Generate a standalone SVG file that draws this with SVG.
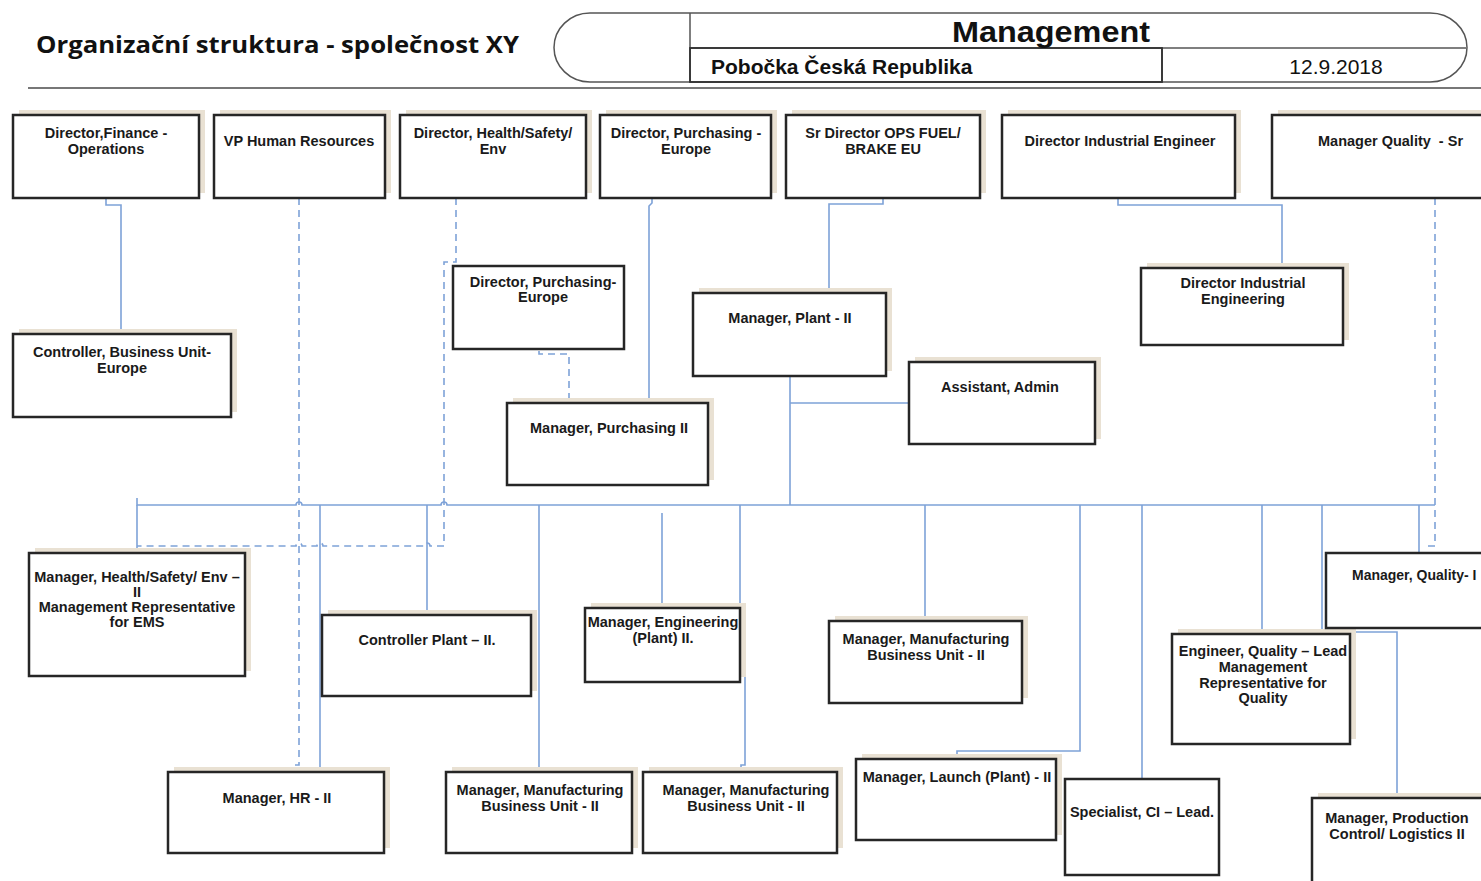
<svg xmlns="http://www.w3.org/2000/svg" width="1481" height="881" viewBox="0 0 1481 881">
<defs>
<style>
.bx{fill:#fff;stroke:#262626;stroke-width:2.5}
.sh{fill:#e9e1d3}
.t{font-family:"Liberation Sans",Arial,sans-serif;font-weight:bold;font-size:14.5px;fill:#1a1a1a;text-anchor:middle}
.c{fill:none;stroke:#7ea2d8;stroke-width:1.6}
.d{fill:none;stroke:#7ea2d8;stroke-width:1.6;stroke-dasharray:7 5}
.hd{fill:none;stroke:#555;stroke-width:1.5}
</style>
</defs>
<rect width="1481" height="881" fill="#fff"/>
<g id="header">
<text x="36" y="53" font-family="'Open Sans','Liberation Sans',sans-serif" font-weight="700" font-size="23" fill="#111" textLength="483" lengthAdjust="spacingAndGlyphs">Organizační struktura - společnost XY</text>
<path class="hd" d="M590,13 H1430 A37,34.5 0 0 1 1430,82 H590 A36,34.5 0 0 1 590,13 Z"/>
<path class="hd" d="M690,13 V82 M690,48 H1466 M1162,48 V82"/>
<rect x="690" y="48" width="472" height="34" fill="none" stroke="#333" stroke-width="1.8"/>
<text x="1051" y="42" font-family="'Liberation Sans',Arial,sans-serif" font-weight="bold" font-size="29" fill="#111" text-anchor="middle" textLength="198" lengthAdjust="spacingAndGlyphs">Management</text>
<text x="711" y="74" font-family="'Liberation Sans',Arial,sans-serif" font-weight="bold" font-size="21" fill="#111">Pobočka Česká Republika</text>
<text x="1336" y="74" font-family="'Liberation Sans',Arial,sans-serif" font-size="21" fill="#111" text-anchor="middle">12.9.2018</text>
<line x1="28" y1="88" x2="1481" y2="88" stroke="#777" stroke-width="2"/>
</g>
<g id="connectors">
<path class="c" d="M106,198 V205 H121 V334"/>
<path class="c" d="M652,198 V203 L649,206 V403"/>
<path class="c" d="M883,198 V204 H829 V293"/>
<path class="c" d="M1118,198 V205 H1282 V268"/>
<path class="c" d="M790,376 V505 M790,403 H909"/>
<path class="c" d="M137,498 V505 H296 A3,3 0 0 1 302,505 H441 A3,3 0 0 1 447,505 H1435"/>
<path class="c" d="M137,505 V553"/>
<path class="c" d="M320,505 V772"/>
<path class="c" d="M427,505 V615"/>
<path class="c" d="M539,505 V772"/>
<path class="c" d="M662,513 V608"/>
<path class="c" d="M740,505 V604 H745 V765 H741 V772"/>
<path class="c" d="M925,505 V621"/>
<path class="c" d="M1080,505 V751 H957 V759"/>
<path class="c" d="M1142,505 V779"/>
<path class="c" d="M1262,505 V634"/>
<path class="c" d="M1322,505 V632 H1397 V798"/>
<path class="c" d="M1419,505 V553"/>
<path class="d" d="M299,198 V765 H293 V772"/>
<path class="d" d="M456,198 V262 H444 V546 H430 A3,3 0 0 0 424,546 H323 A3,3 0 0 0 317,546 H302 A3,3 0 0 0 296,546 H137"/>
<path class="d" d="M539,351 V354 H569 V403"/>
<path class="d" d="M1435,198 V546 H1427"/>
</g>
<g id="n1"><rect class="sh" x="19" y="110" width="186" height="83"/><rect class="bx" x="13" y="115" width="186" height="83"/><text class="t" x="106" y="138">Director,Finance -</text><text class="t" x="106" y="154">Operations</text></g>
<g id="n2"><rect class="sh" x="220" y="110" width="171" height="83"/><rect class="bx" x="214" y="115" width="171" height="83"/><text class="t" x="299" y="146">VP Human Resources</text></g>
<g id="n3"><rect class="sh" x="406" y="110" width="186" height="83"/><rect class="bx" x="400" y="115" width="186" height="83"/><text class="t" x="493" y="138">Director, Health/Safety/</text><text class="t" x="493" y="154">Env</text></g>
<g id="n4"><rect class="sh" x="606" y="110" width="171" height="83"/><rect class="bx" x="600" y="115" width="171" height="83"/><text class="t" x="686" y="138">Director, Purchasing -</text><text class="t" x="686" y="154">Europe</text></g>
<g id="n5"><rect class="sh" x="792" y="110" width="194" height="83"/><rect class="bx" x="786" y="115" width="194" height="83"/><text class="t" x="883" y="138">Sr Director OPS FUEL/</text><text class="t" x="883" y="154">BRAKE EU</text></g>
<g id="n6"><rect class="sh" x="1008" y="110" width="233" height="83"/><rect class="bx" x="1002" y="115" width="233" height="83"/><text class="t" x="1120" y="146">Director Industrial Engineer</text></g>
<g id="n7"><rect class="sh" x="1278" y="110" width="220" height="83"/><rect class="bx" x="1272" y="115" width="220" height="83"/><text class="t" x="1318" y="146" style="text-anchor:start;white-space:pre">Manager Quality  - Sr</text></g>
<g id="n8"><rect class="sh" x="19" y="329" width="218" height="83"/><rect class="bx" x="13" y="334" width="218" height="83"/><text class="t" x="122" y="357">Controller, Business Unit-</text><text class="t" x="122" y="373">Europe</text></g>
<g id="n9"><rect class="bx" x="453" y="266" width="171" height="83"/><text class="t" x="543" y="287">Director, Purchasing-</text><text class="t" x="543" y="302">Europe</text></g>
<g id="n10"><rect class="sh" x="699" y="288" width="193" height="83"/><rect class="bx" x="693" y="293" width="193" height="83"/><text class="t" x="790" y="323">Manager, Plant - II</text></g>
<g id="n11"><rect class="sh" x="1147" y="263" width="202" height="77"/><rect class="bx" x="1141" y="268" width="202" height="77"/><text class="t" x="1243" y="288">Director Industrial</text><text class="t" x="1243" y="304">Engineering</text></g>
<g id="n12"><rect class="sh" x="915" y="357" width="186" height="82"/><rect class="bx" x="909" y="362" width="186" height="82"/><text class="t" x="1000" y="392">Assistant, Admin</text></g>
<g id="n13"><rect class="sh" x="513" y="398" width="201" height="82"/><rect class="bx" x="507" y="403" width="201" height="82"/><text class="t" x="609" y="433">Manager, Purchasing II</text></g>
<g id="n14"><rect class="sh" x="35" y="548" width="216" height="123"/><rect class="bx" x="29" y="553" width="216" height="123"/><text class="t" x="137" y="582">Manager, Health/Safety/ Env –</text><text class="t" x="137" y="597">II</text><text class="t" x="137" y="612">Management Representative</text><text class="t" x="137" y="627">for EMS</text></g>
<g id="n15"><rect class="sh" x="328" y="610" width="209" height="81"/><rect class="bx" x="322" y="615" width="209" height="81"/><text class="t" x="427" y="645">Controller Plant – II.</text></g>
<g id="n16"><rect class="sh" x="591" y="603" width="155" height="74"/><rect class="bx" x="585" y="608" width="155" height="74"/><text class="t" x="663" y="627">Manager, Engineering</text><text class="t" x="663" y="643">(Plant) II.</text></g>
<g id="n17"><rect class="sh" x="835" y="616" width="193" height="82"/><rect class="bx" x="829" y="621" width="193" height="82"/><text class="t" x="926" y="644">Manager, Manufacturing</text><text class="t" x="926" y="660">Business Unit - II</text></g>
<g id="n18"><rect class="sh" x="1178" y="629" width="178" height="110"/><rect class="bx" x="1172" y="634" width="178" height="110"/><text class="t" x="1263" y="656">Engineer, Quality – Lead</text><text class="t" x="1263" y="672">Management</text><text class="t" x="1263" y="688">Representative for</text><text class="t" x="1263" y="703">Quality</text></g>
<g id="n19"><rect class="bx" x="1326" y="553" width="170" height="75"/><text class="t" x="1352" y="580" style="text-anchor:start;font-size:14px">Manager, Quality- I</text></g>
<g id="n20"><rect class="sh" x="174" y="767" width="216" height="81"/><rect class="bx" x="168" y="772" width="216" height="81"/><text class="t" x="277" y="803">Manager, HR - II</text></g>
<g id="n21"><rect class="sh" x="452" y="767" width="186" height="81"/><rect class="bx" x="446" y="772" width="186" height="81"/><text class="t" x="540" y="795">Manager, Manufacturing</text><text class="t" x="540" y="811">Business Unit - II</text></g>
<g id="n22"><rect class="sh" x="649" y="767" width="194" height="81"/><rect class="bx" x="643" y="772" width="194" height="81"/><text class="t" x="746" y="795">Manager, Manufacturing</text><text class="t" x="746" y="811">Business Unit - II</text></g>
<g id="n23"><rect class="sh" x="862" y="754" width="200" height="81"/><rect class="bx" x="856" y="759" width="200" height="81"/><text class="t" x="957" y="782">Manager, Launch (Plant) - II</text></g>
<g id="n24"><rect class="bx" x="1065" y="779" width="154" height="96"/><text class="t" x="1142" y="817">Specialist, CI – Lead.</text></g>
<g id="n25"><rect class="sh" x="1318" y="793" width="180" height="100"/><rect class="bx" x="1312" y="798" width="180" height="100"/><text class="t" x="1397" y="823">Manager, Production</text><text class="t" x="1397" y="839">Control/ Logistics II</text></g>
</svg>
